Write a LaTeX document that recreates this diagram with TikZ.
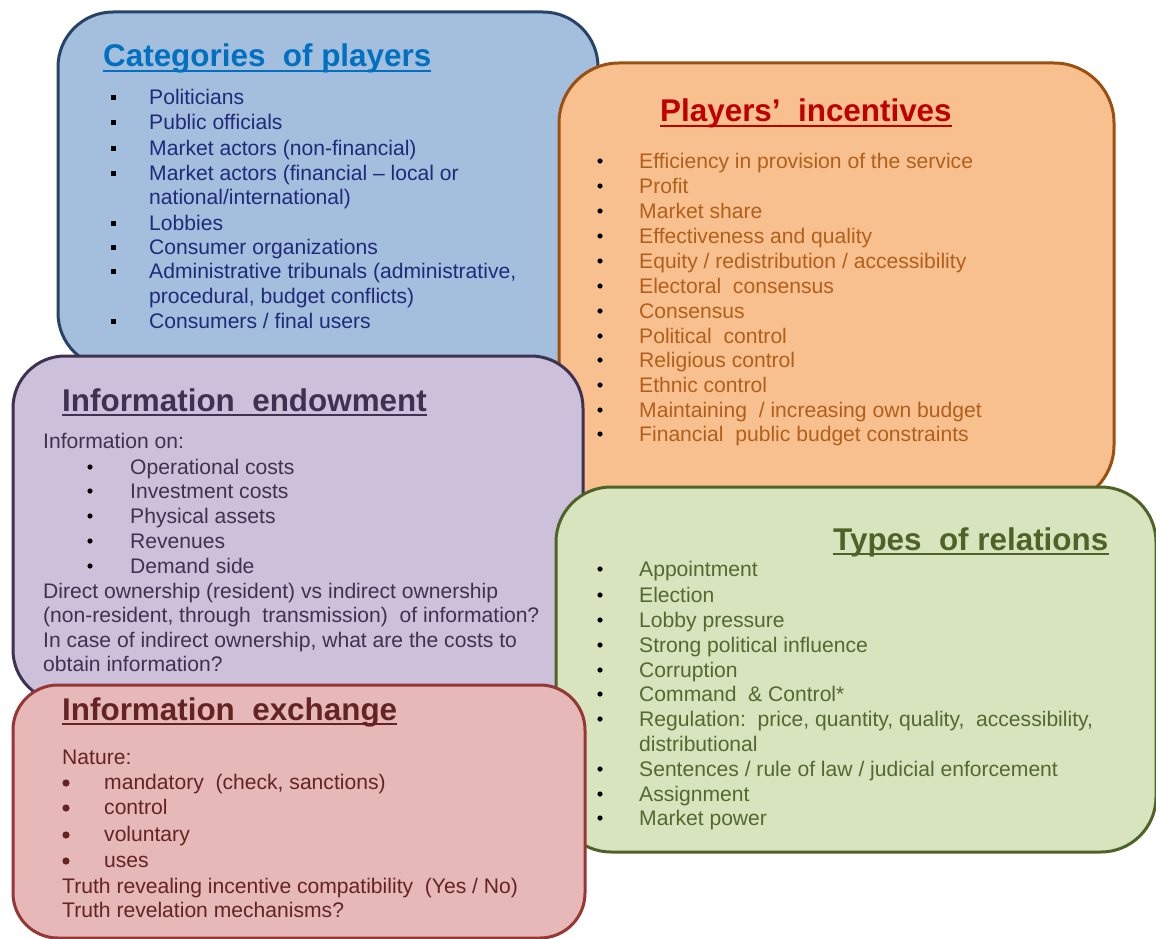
\documentclass[tikz,border=0pt]{standalone}
\usepackage{fontspec}
\setmainfont{Liberation Sans}
\definecolor{bfill}{HTML}{A4BEDE}
\definecolor{bdraw}{HTML}{254468}
\definecolor{btitle}{HTML}{0070C0}
\definecolor{btext}{HTML}{1F2A78}
\definecolor{ofill}{HTML}{F9C08F}
\definecolor{odraw}{HTML}{9C5010}
\definecolor{otitle}{HTML}{C00000}
\definecolor{otext}{HTML}{B0601C}
\definecolor{pfill}{HTML}{CCC0DA}
\definecolor{pdraw}{HTML}{3F3151}
\definecolor{ptext}{HTML}{403151}
\definecolor{gfill}{HTML}{D7E4BD}
\definecolor{gdraw}{HTML}{4F6228}
\definecolor{gtext}{HTML}{556830}
\definecolor{rfill}{HTML}{E6B8B7}
\definecolor{rdraw}{HTML}{953735}
\definecolor{rtext}{HTML}{632423}
\tikzset{
  panel/.style={line width=3pt},
  txt/.style={anchor=base west, inner sep=0pt, font=\fontsize{21.1}{25}\selectfont},
  ttl/.style={anchor=base west, inner sep=0pt, font=\fontsize{31.4}{37}\selectfont\bfseries},
  uline/.style={line width=2.5pt},
}
\begin{document}
\begin{tikzpicture}[x=1pt,y=-1pt]
\useasboundingbox (0,0) rectangle (1156,939);
% ---------- blue panel
\draw[panel, fill=bfill, draw=bdraw, rounded corners=55pt] (58,12) rectangle (598,368);
\node[ttl, text=btitle] (btl) at (103,67) {Categories\ \ of players};
\draw[uline, btitle] ([yshift=-4pt]btl.base west) -- ([yshift=-4pt]btl.base east);
\foreach \yy/\tt [count=\i] in {98/{Politicians}, 123/{Public officials}, 148/{Market actors (non-financial)},
   173/{Market actors (financial – local or}, 223/{Lobbies}, 247/{Consumer organizations},
   271/{Administrative tribunals (administrative,}, 321/{Consumers / final users}}{
  \fill[black] (110.5,\yy-2.5) rectangle ++(5,5);
  \node[txt, text=btext] (bi\i) at (149,\yy+7) {\tt};
}
\node[txt, text=btext] (bx1) at (149,197+7) {national/international)};
\node[txt, text=btext] (bx2) at (149,296+7) {procedural, budget conflicts)};
% ---------- orange panel
\draw[panel, fill=ofill, draw=odraw, rounded corners=60pt] (559,63) rectangle (1114,505);
\node[ttl, text=otitle] (otl) at (660,122) {Players’\ \ incentives};
\draw[uline, otitle] ([yshift=-4pt]otl.base west) -- ([yshift=-4pt]otl.base east);
\foreach \yy/\tt [count=\i] in {161/{Efficiency in provision of the service}, 186/{Profit}, 211/{Market share},
   236/{Effectiveness and quality}, 261/{Equity / redistribution / accessibility}, 286/{Electoral\ \ consensus},
   311/{Consensus}, 336/{Political\ \ control}, 360/{Religious control}, 385/{Ethnic control},
   410/{Maintaining\ \ / increasing own budget}, 434/{Financial\ \ public budget constraints}}{
  \fill[black] (600,\yy) circle (2.6pt);
  \node[txt, text=otext] (oi\i) at (639,\yy+7) {\tt};
}
% ---------- purple panel
\draw[panel, fill=pfill, draw=pdraw, rounded corners=52pt] (13,356) rectangle (583,702);
\node[ttl, text=pdraw] (ptl) at (62,411) {Information\ \ endowment};
\draw[uline, pdraw] ([yshift=-4pt]ptl.base west) -- ([yshift=-4pt]ptl.base east);
\node[txt, text=ptext] (pl0) at (43,441+7) {Information on:};
\foreach \yy/\tt [count=\i] in {467/{Operational costs}, 491/{Investment costs}, 516/{Physical assets},
   541/{Revenues}, 566/{Demand side}}{
  \fill[black] (90,\yy) circle (2.6pt);
  \node[txt, text=ptext] (pi\i) at (130,\yy+7) {\tt};
}
\foreach \yy/\tt [count=\i] in {591/{Direct ownership (resident) vs indirect ownership},
   615/{(non-resident, through\ \ transmission)\ \ of information?},
   640/{In case of indirect ownership, what are the costs to},
   664/{obtain information?}}{
  \node[txt, text=ptext] (pl\i) at (43,\yy+7) {\tt};
}
% ---------- green panel
\draw[panel, fill=gfill, draw=gdraw, rounded corners=55pt] (556,487) rectangle (1156,852);
\node[ttl, text=gdraw] (gtl) at (833,550) {Types\ \ of relations};
\draw[uline, gdraw] ([yshift=-4pt]gtl.base west) -- ([yshift=-4pt]gtl.base east);
\foreach \yy/\tt [count=\i] in {569/{Appointment}, 595/{Election}, 620/{Lobby pressure},
   645/{Strong political influence}, 670/{Corruption}, 694/{Command\ \ \& Control*},
   719/{Regulation:\ \ price, quantity, quality,\ \ accessibility,},
   769/{Sentences / rule of law / judicial enforcement}, 794/{Assignment}, 818/{Market power}}{
  \fill[black] (600,\yy) circle (2.6pt);
  \node[txt, text=gtext] (gi\i) at (639,\yy+7) {\tt};
}
\node[txt, text=gtext] (gx1) at (639,744+7) {distributional};
% ---------- red panel
\draw[panel, fill=rfill, draw=rdraw, rounded corners=45pt] (13,685) rectangle (585,938);
\node[ttl, text=rtext] (rtl) at (62,720) {Information\ \ exchange};
\draw[uline, rtext] ([yshift=-4pt]rtl.base west) -- ([yshift=-4pt]rtl.base east);
\node[txt, text=rtext] (rl0) at (62,757+7) {Nature:};
\foreach \yy/\tt [count=\i] in {782/{mandatory\ \ (check, sanctions)}, 807/{control}, 834/{voluntary}, 860/{uses}}{
  \fill[rtext] (66,\yy+1) circle (3.6pt);
  \node[txt, text=rtext] (ri\i) at (104,\yy+7) {\tt};
}
\node[txt, text=rtext] (rl1) at (62,886+7) {Truth revealing incentive compatibility\ \ (Yes / No)};
\node[txt, text=rtext] (rl2) at (62,910+7) {Truth revelation mechanisms?};
\end{tikzpicture}
\end{document}
